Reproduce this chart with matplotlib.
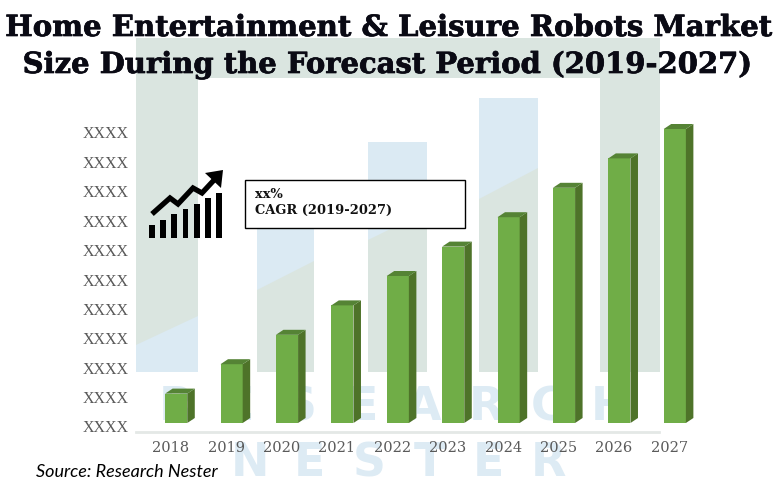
import matplotlib
matplotlib.use('Agg')
import matplotlib.pyplot as plt
import matplotlib.patheffects as pe
from matplotlib.patches import Rectangle, Polygon
from matplotlib.transforms import ScaledTranslation

years = ['2018', '2019', '2020', '2021', '2022', '2023', '2024', '2025', '2026', '2027']
values = [1, 2, 3, 4, 5, 6, 7, 8, 9, 10]
y_ticks = [0, 1, 2, 3, 4, 5, 6, 7, 8, 9, 10]
y_labels = ['XXXX'] * 11

title_lines = ['Home Entertainment & Leisure Robots Market',
               'Size During the Forecast Period (2019-2027)']
wm_top = 'RESEARCH'
wm_bottom = 'NESTER'
icon_bars = [13, 18, 24, 29, 34, 40, 45]

W, H = 778, 487
GREY = '#DAE5E0'
BLUE = '#DBEAF3'
WM = '#DDEBF4'

fig = plt.figure(figsize=(W / 100, H / 100), dpi=100)

# background layer in pixel coordinates
bg = fig.add_axes([0, 0, 1, 1])
bg.set_xlim(0, W)
bg.set_ylim(H, 0)
bg.axis('off')


def band(x0, x1, top, y0, y1, bottom=372):
    # blue on top, grey below the slant
    bg.add_patch(Rectangle((x0, top), x1 - x0, bottom - top, fc=BLUE, ec='none'))
    bg.add_patch(Polygon([(x0, y0), (x1, y1), (x1, bottom), (x0, bottom)], fc=GREY, ec='none'))


# the grey frame and the columns behind the bars
bg.add_patch(Rectangle((136, 38), 524, 40, fc=GREY, ec='none'))
bg.add_patch(Rectangle((136, 78), 62, 294, fc=GREY, ec='none'))
bg.add_patch(Polygon([(136, 345), (198, 316), (198, 372), (136, 372)], fc=BLUE, ec='none'))
bg.add_patch(Rectangle((600, 78), 60, 294, fc=GREY, ec='none'))
band(257, 314, 229, 290, 261)
band(368, 427, 142, 240, 211)
band(479, 538, 98, 199, 168)

for i, ch in enumerate(wm_top):
    bg.text(176 + i * 62, 408, ch, color=WM, fontsize=33, fontweight='bold',
            ha='center', va='center', family='DejaVu Sans')
for i, ch in enumerate(wm_bottom):
    bg.text(250 + i * 59.7, 464, ch, color=WM, fontsize=33, fontweight='bold',
            ha='center', va='center', family='DejaVu Sans')

# bars
px_left, px_right, px_top, px_bottom = 136, 730, 98, 431.5
unit_x, unit_y = 55.4, 29.4
ax = fig.add_axes([px_left / W, 1 - px_bottom / H, (px_right - px_left) / W, (px_bottom - px_top) / H])
ax.patch.set_alpha(0)
ax.set_xlim((px_left - 176.2) / unit_x, (px_right - 176.2) / unit_x)
ax.set_ylim(-8.5 / unit_y, (423 - px_top) / unit_y)

xs = list(range(len(years)))
bar_w = 0.4
dx = 7.5 / unit_x
dy = 5 / unit_y
ax.bar(xs, values, width=bar_w, color='#70AD47', linewidth=0, zorder=3)
for x, v in zip(xs, values):
    r = x + bar_w / 2
    l = x - bar_w / 2
    ax.add_patch(Polygon([(r, 0), (r + dx, dy), (r + dx, v + dy), (r, v)], fc='#4E7329', ec='none', zorder=3))
    ax.add_patch(Polygon([(l, v), (l + dx, v + dy), (r + dx, v + dy), (r, v)], fc='#558335', ec='none', zorder=3))

for name in ['top', 'right', 'left']:
    ax.spines[name].set_visible(False)
ax.spines['bottom'].set_color('#E4E8E6')
ax.spines['bottom'].set_linewidth(2)
ax.spines['bottom'].set_bounds((px_left - 176.2) / unit_x, (659 - 176.2) / unit_x)

ax.set_xticks(xs)
ax.set_xticklabels(years, family='DejaVu Serif', fontsize=10.5, color='#5A5A5A')
ax.set_yticks(y_ticks)
ax.set_yticklabels(y_labels, family='Liberation Serif', fontsize=11.5, color='#595959')
ax.tick_params(length=0)
ax.tick_params(axis='x', pad=7)
ax.tick_params(axis='y', pad=5)

# labels sit a little off the bars in the original
for lbl in ax.get_xticklabels():
    lbl.set_transform(lbl.get_transform() + ScaledTranslation(-5.5 / 100, 0, fig.dpi_scale_trans))
for lbl in ax.get_yticklabels():
    lbl.set_transform(lbl.get_transform() + ScaledTranslation(0, -3.5 / 100, fig.dpi_scale_trans))

# top layer: title, icon, box, source
fg = fig.add_axes([0, 0, 1, 1])
fg.patch.set_alpha(0)
fg.set_xlim(0, W)
fg.set_ylim(H, 0)
fg.axis('off')

heavy = [pe.withStroke(linewidth=0.5, foreground='#0A0A14')]
fg.text(389, 36, title_lines[0], family='DejaVu Serif', fontweight='bold', fontsize=21,
        ha='center', va='baseline', color='#0A0A14', path_effects=heavy)
fg.text(387.5, 73, title_lines[1], family='DejaVu Serif', fontweight='bold', fontsize=20.9,
        ha='center', va='baseline', color='#0A0A14', path_effects=heavy)

for i, h in enumerate(icon_bars):
    fg.add_patch(Rectangle((149 + i * 11.2, 238 - h), 5.8, h, fc='black', ec='none'))
fg.plot([152, 170, 178, 193, 202, 215], [214, 198, 204, 188, 193, 179], color='black', lw=3.8,
        solid_joinstyle='miter', solid_capstyle='butt')
fg.add_patch(Polygon([(205, 173), (223, 170), (221, 188)], fc='black', ec='none'))

fg.add_patch(Rectangle((245, 179.5), 220, 48.5, fc='white', ec='black', lw=1))
fg.text(255, 194, 'xx%', family='DejaVu Serif', fontweight='bold', fontsize=9.4, va='center', color='#111111')
fg.text(255, 210.5, 'CAGR (2019-2027)', family='DejaVu Serif', fontweight='bold', fontsize=9.4,
        va='center', color='#111111')

fg.text(36, 472, 'Source: Research Nester', family='Lato', style='italic', fontsize=13,
        va='center', color='black')

plt.savefig('out.png', dpi=100)
